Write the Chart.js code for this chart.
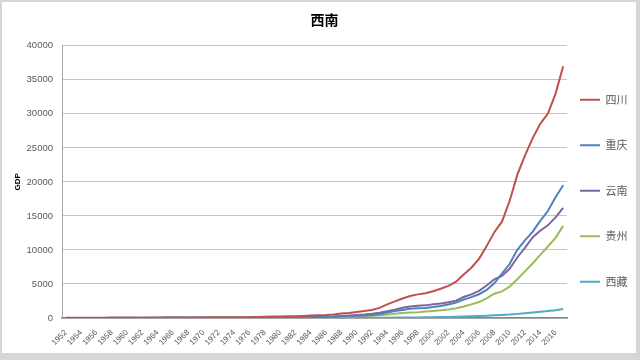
<!DOCTYPE html>
<html>
<head>
<meta charset="utf-8">
<script src="https://cdn.jsdelivr.net/npm/chart.js@4/dist/chart.umd.min.js"></script>
<style>
  html, body { margin: 0; padding: 0; background: #d6d6d6; width: 640px; height: 360px; overflow: hidden; }
  #wrap { position: absolute; left: 2px; top: 2px; width: 634px; height: 351px; background: #ffffff; }
  canvas { display: block; }
</style>
</head>
<body>
<div id="wrap"><canvas id="c" width="634" height="351"></canvas></div>
<script>
const years = [];
for (let y = 1952; y <= 2017; y++) years.push(String(y));

const sichuan = [24.6,28,31,32,36,39,48,52,55,44,41,45,52,62,72,64,58,68,85,95,100,107,105,120,115,148,
  185,205,229,243,275,311,358,421,458,530,659,744,891,1016,1177,1487,2001,2443,2872,3241,3474,3649,3928,4293,
  4725,5333,6379,7385,8690,10562,12601,14151,17185,21027,23873,26392,28537,30053,32935,36980];
const chongqing = [11,12,13,14,16,17,21,23,24,19,18,20,23,27,31,28,26,30,37,41,43,46,45,52,50,62,
  67,76,86,94,104,115,133,155,174,201,254,289,329,379,454,601,788,1016,1179,1350,1429,1480,1603,1766,
  1991,2273,2693,3070,3492,4123,5097,6530,7926,10011,11410,12657,14263,15717,17741,19500];
const yunnan = [11.8,13,14,15,17,18,22,24,25,20,19,21,24,28,32,30,28,31,37,40,42,45,46,50,52,62,
  69,76,84,94,111,121,139,165,182,229,301,363,452,518,619,783,984,1222,1518,1676,1794,1856,2011,2138,
  2313,2556,3082,3462,3988,4773,5692,6170,7224,8893,10310,11832,12815,13619,14788,16200];
const guizhou = [8,9,10,10,11,12,15,17,18,15,13,14,16,19,22,20,18,21,25,27,29,31,30,33,35,42,
  47,56,60,67,79,88,108,124,140,165,212,236,260,296,340,417,522,636,723,805,858,938,1030,1133,
  1243,1426,1678,2005,2339,2884,3562,3913,4602,5702,6852,8007,9266,10503,11777,13541];
const xizang = [1.3,1.4,1.5,1.6,1.8,1.9,2.2,2.4,2.6,2.8,2.9,3,3.2,3.3,3.5,3.6,3.7,3.8,4,4.3,4.5,4.8,5,5.3,5.6,6,
  6.7,7.1,8.7,10.4,10.2,10.3,13.7,17.8,16.9,17.7,20.3,21.9,27.7,30.5,33.3,37.4,45.8,56.1,64.8,77.2,91.5,105.6,117.8,139.2,
  162,185,220,249,291,342,394,441,507,606,701,816,921,1026,1151,1311];

const seriesNames = ['四川','重庆','云南','贵州','西藏'];
const seriesColors = ['#c0504d','#4f81bd','#8064a2','#9bbb59','#4bacc6'];
const seriesData = [sichuan, chongqing, yunnan, guizhou, xizang];

const yMin = 0, yMax = 40000, yStep = 5000;

const datasets = seriesNames.map((n, i) => ({
  label: n,
  data: seriesData[i],
  borderColor: seriesColors[i],
  backgroundColor: seriesColors[i],
  borderWidth: 2,
  pointRadius: 0,
  pointHoverRadius: 0,
  tension: 0,
  fill: false
}));

new Chart(document.getElementById('c'), {
  type: 'line',
  data: { labels: years, datasets },
  options: {
    responsive: false,
    animation: false,
    events: [],
    layout: { padding: { left: 11, right: 0, top: 0, bottom: 0 } },
    plugins: {
      title: {
        display: true,
        text: '西南',
        color: '#000000',
        font: { family: '"Noto Sans CJK SC", sans-serif', size: 14, weight: 'bold' },
        padding: { top: 9, bottom: 18 }
      },
      legend: {
        display: true,
        position: 'right',
        align: 'start',
        fullSize: false,
        maxWidth: 69,
        title: { display: true, text: '', padding: 0, font: { size: 10, lineHeight: 3.55 } },
        labels: {
          usePointStyle: true,
          pointStyle: 'line',
          pointStyleWidth: 20,
          padding: 13,
          color: '#595959',
          font: { family: '"Noto Sans CJK SC", sans-serif', size: 11, lineHeight: 32.5/11 },
          generateLabels: (chart) => {
            const items = Chart.defaults.plugins.legend.labels.generateLabels(chart);
            items.forEach(it => { it.text = [it.text]; it.lineWidth = 2; });
            return items;
          }
        }
      },
      tooltip: { enabled: false }
    },
    scales: {
      x: {
        offset: true,
        grid: { display: false, drawTicks: false },
        border: { display: true, color: '#868686', width: 1.5 },
        ticks: {
          autoSkip: false,
          maxRotation: 45,
          minRotation: 45,
          padding: 10,
          color: '#595959',
          font: { family: '"Liberation Sans", Arial, sans-serif', size: 8 },
          callback: function(v, i) { return i % 2 === 0 ? this.getLabelForValue(v) : ''; }
        },
        afterFit: (s) => { s.height = 35; }
      },
      y: {
        min: yMin, max: yMax,
        grid: { color: '#c4c4c4', lineWidth: 1, drawTicks: false },
        border: { display: true, color: '#a6a6a6', width: 1 },
        ticks: {
          stepSize: yStep,
          padding: 9,
          color: '#595959',
          font: { family: '"Liberation Sans", Arial, sans-serif', size: 9.5 },
          callback: (v) => String(v)
        },
        title: {
          display: true,
          text: 'GDP',
          color: '#000000',
          font: { family: '"Liberation Sans", Arial, sans-serif', size: 8, weight: 'bold' },
          padding: { top: 0, bottom: 0 }
        },
        afterFit: (s) => { s.width = 49; }
      }
    }
  }
});
</script>
</body>
</html>
